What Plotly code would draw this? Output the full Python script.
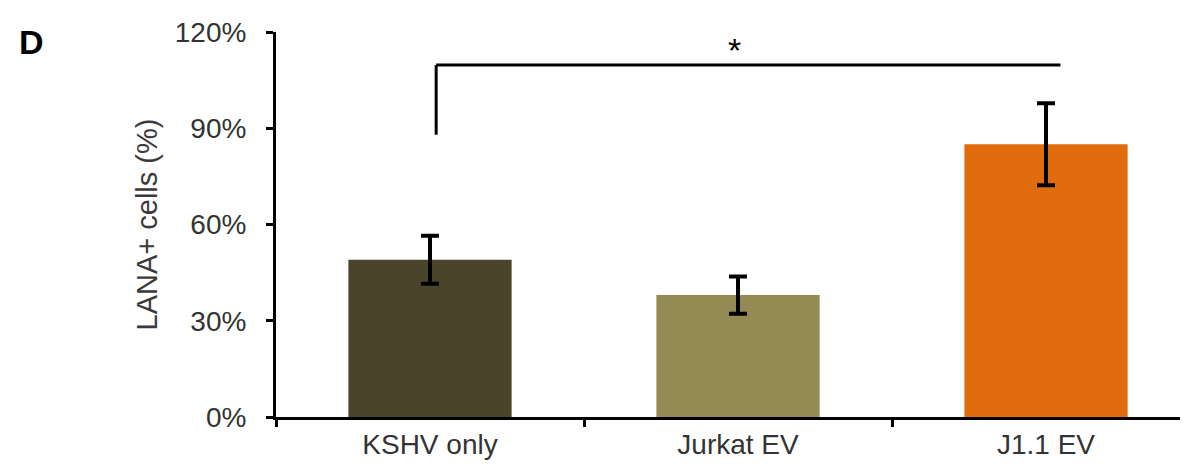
import plotly.graph_objects as go

categories = ["KSHV only", "Jurkat EV", "J1.1 EV"]
values = [49, 38, 85]
errors = [7.5, 5.8, 12.8]
colors = ["#4A442A", "#948A53", "#E16C0E"]
y_ticks = [0, 30, 60, 90, 120]
y_tick_labels = ["0%", "30%", "60%", "90%", "120%"]

FONT = "Liberation Sans, Arial, sans-serif"

# page body has an 8px margin; figure sized/offset to compensate
W, H = 1180, 456
L, R, T, B = 268, 0, 24, 47
PW = W - L - R
PH = H - T - B

fig = go.Figure()
fig.add_trace(go.Bar(
    x=categories, y=values,
    marker=dict(color=colors, line=dict(width=0)),
    width=0.53,
    error_y=dict(type="data", array=errors, visible=True,
                 color="black", thickness=4, width=9),
    showlegend=False,
))

# significance bracket
fig.add_shape(type="line", x0=0.02, x1=2.047, y0=109.7, y1=109.7,
              xref="x", yref="y", line=dict(color="black", width=3))
fig.add_shape(type="line", x0=0.02, x1=0.02, y0=88, y1=109.7,
              xref="x", yref="y", line=dict(color="black", width=3))
fig.add_annotation(x=0.99, y=114.5, xref="x", yref="y", text="*",
                   showarrow=False, yanchor="middle",
                   font=dict(family=FONT, size=34, color="black"))

# panel label (screen px ~ (31, 42))
fig.add_annotation(x=(31 - 8 - L) / PW, y=(H - B - (42 - 8)) / PH,
                   xref="paper", yref="paper", text="<b>D</b>",
                   showarrow=False, xanchor="center", yanchor="middle",
                   font=dict(family=FONT, size=34, color="black"))
# y title (screen x ~146)
fig.add_annotation(x=(146 - 8 - L) / PW, y=0.5, xref="paper", yref="paper",
                   text="LANA+ cells (%)", textangle=-90, showarrow=False,
                   xanchor="center", yanchor="middle",
                   font=dict(family=FONT, size=29, color="#3a3a3a"))

fig.update_layout(
    width=W, height=H,
    margin=dict(l=L, r=R, t=T, b=B, pad=0),
    paper_bgcolor="white", plot_bgcolor="white",
    font=dict(family=FONT, size=28, color="#333333"),
    xaxis=dict(
        type="category", range=[-0.5, 2.461],
        showline=True, linecolor="black", linewidth=3,
        ticks="outside", tickson="boundaries", ticklen=7, tickwidth=3,
        tickcolor="black", showgrid=False, zeroline=False,
        tickfont=dict(family=FONT, size=28, color="#333333"),
    ),
    yaxis=dict(
        range=[0, 120], tickvals=y_ticks, ticktext=y_tick_labels,
        showline=True, linecolor="black", linewidth=3,
        ticks="outside", ticklen=7, tickwidth=3, tickcolor="black",
        showgrid=False, zeroline=False, ticklabelstandoff=14,
        tickfont=dict(family=FONT, size=28, color="#333333"),
    ),
)

fig.write_html("out.html")
